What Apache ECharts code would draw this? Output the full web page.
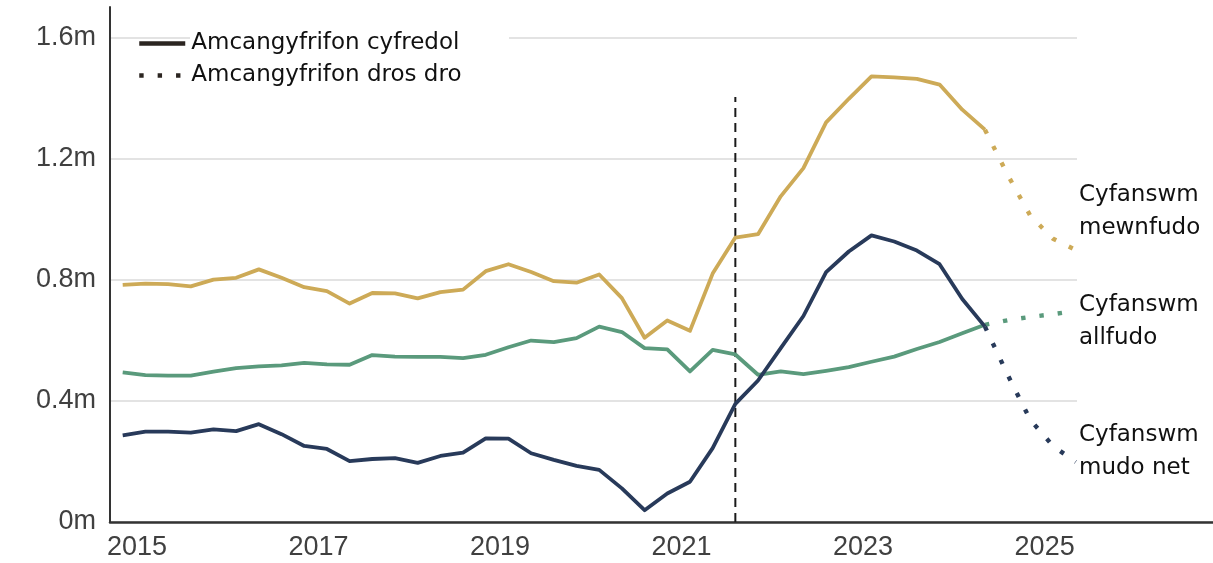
<!DOCTYPE html>
<html>
<head>
<meta charset="utf-8">
<script src="https://cdn.jsdelivr.net/npm/echarts@6.0.0/dist/echarts.min.js"></script>
<style>
  html, body { margin: 0; padding: 0; background: #fff; }
  #chart { width: 1213px; height: 563px; }
</style>
</head>
<body>
<div id="chart"></div>
<script>
// quarterly points, year ending
const quarters = [
  '2014 Q4',
  '2015 Q1', '2015 Q2', '2015 Q3', '2015 Q4',
  '2016 Q1', '2016 Q2', '2016 Q3', '2016 Q4',
  '2017 Q1', '2017 Q2', '2017 Q3', '2017 Q4',
  '2018 Q1', '2018 Q2', '2018 Q3', '2018 Q4',
  '2019 Q1', '2019 Q2', '2019 Q3', '2019 Q4',
  '2020 Q1', '2020 Q2', '2020 Q3', '2020 Q4',
  '2021 Q1', '2021 Q2', '2021 Q3', '2021 Q4',
  '2022 Q1', '2022 Q2', '2022 Q3', '2022 Q4',
  '2023 Q1', '2023 Q2', '2023 Q3', '2023 Q4',
  '2024 Q1', '2024 Q2', '2024 Q3', '2024 Q4',
  '2025 Q1', '2025 Q2'
]
// millions
const mewnfudo = [0.783, 0.787, 0.785, 0.778, 0.800, 0.806, 0.834, 0.806, 0.775, 0.762,
  0.721, 0.756, 0.755, 0.738, 0.759, 0.767, 0.828, 0.851, 0.825, 0.795,
  0.790, 0.817, 0.739, 0.608, 0.665, 0.631, 0.820, 0.939, 0.950, 1.075,
  1.168, 1.319, 1.397, 1.471, 1.468, 1.463, 1.444, 1.361, 1.295, 1.146,
  1.011, 0.935, 0.898]
const allfudo = [0.494, 0.485, 0.483, 0.483, 0.496, 0.508, 0.514, 0.517, 0.525, 0.520,
  0.519, 0.551, 0.546, 0.545, 0.545, 0.541, 0.552, 0.577, 0.599, 0.594,
  0.607, 0.645, 0.627, 0.574, 0.570, 0.497, 0.568, 0.553, 0.486, 0.497,
  0.488, 0.499, 0.511, 0.529, 0.546, 0.571, 0.594, 0.623, 0.651, 0.666,
  0.677, 0.686, 0.697]
const mudoNet = [0.286, 0.298, 0.298, 0.295, 0.306, 0.300, 0.323, 0.290, 0.251, 0.241,
  0.201, 0.208, 0.211, 0.195, 0.218, 0.229, 0.276, 0.275, 0.227, 0.205,
  0.185, 0.172, 0.111, 0.039, 0.094, 0.133, 0.244, 0.390, 0.467, 0.574,
  0.680, 0.825, 0.893, 0.946, 0.926, 0.896, 0.851, 0.736, 0.645, 0.486,
  0.337, 0.251, 0.198]
const provisionalFrom = '2024 Q2'
const breakQuarter = '2021 Q3'
const breakTop = 1.403
const yearLabels = [2015, 2017, 2019, 2021, 2023, 2025]
const legendNames = ['Amcangyfrifon cyfredol', 'Amcangyfrifon dros dro']

const GOLD = '#CDAA57'
const GREEN = '#5A9A7C'
const NAVY = '#283A5A'
const LABEL_FONT = "'DejaVu Sans', sans-serif"
const AXIS_FONT = "'Liberation Sans', Arial, sans-serif"

// quarter label -> position on the year axis
function xPos(q) {
  const y = +q.slice(0, 4)
  const n = +q.slice(6)
  return y + (n - 1) * 0.25 + 0.0924
}

const cut = quarters.indexOf(provisionalFrom)

function solid(vals) {
  return quarters.slice(0, cut + 1).map((q, i) => [xPos(q), vals[i]])
}
function dotted(vals) {
  return quarters.slice(cut).map((q, i) => [xPos(q), vals[cut + i]])
}

function lineSeries(name, data, color, dots, z) {
  return {
    name: name,
    type: 'line',
    data: data,
    symbol: 'none',
    z: z,
    silent: true,
    lineStyle: {
      color: color,
      width: dots ? 4.4 : 3.8,
      type: dots ? [4.4, 14] : 'solid',
      join: 'round'
    },
    itemStyle: { color: color }
  }
}

const chart = echarts.init(document.getElementById('chart'))
chart.setOption({
  animation: false,
  grid: { left: 110, right: 0, top: 7, bottom: 41, containLabel: false },
  legend: {
    orient: 'vertical',
    left: 137,
    top: 32,
    padding: 0,
    itemGap: 9,
    itemWidth: 46,
    itemHeight: 14,
    data: legendNames,
    lineStyle: { width: 4.5 },
    itemStyle: { opacity: 0 },
    textStyle: { fontFamily: LABEL_FONT, fontSize: 23, color: '#111', padding: [0, 0, 0, 1] },
    selectedMode: false
  },
  xAxis: {
    type: 'value',
    min: 2014.7025,
    max: 2026.855,
    splitLine: { show: false },
    axisTick: { show: false },
    axisLine: { onZero: false, lineStyle: { color: '#333', width: 2.5 } },
    axisLabel: {
      customValues: yearLabels,
      formatter: v => String(Math.round(v)),
      fontFamily: AXIS_FONT,
      fontSize: 27,
      color: '#404040',
      margin: 12
    }
  },
  yAxis: {
    type: 'value',
    min: 0,
    max: 1.7,
    interval: 0.4,
    axisLine: { show: true, lineStyle: { color: '#333', width: 2 } },
    axisTick: { show: false },
    splitLine: { show: true, showMaxLine: false, lineStyle: { color: '#e3e3e3', width: 2 } },
    axisLabel: {
      showMaxLabel: false,
      formatter: v => (v === 0 ? '0m' : v.toFixed(1) + 'm'),
      fontFamily: AXIS_FONT,
      fontSize: 27,
      color: '#404040',
      margin: 14
    }
  },
  series: [
    // legend entries only
    lineSeries(legendNames[0], [], '#2b2521', false, 1),
    lineSeries(legendNames[1], [], '#2b2521', true, 1),
    {
      type: 'line',
      data: [[xPos(breakQuarter), 0], [xPos(breakQuarter), breakTop]],
      symbol: 'none',
      silent: true,
      z: 1,
      lineStyle: { color: '#1a1a1a', width: 2, type: [9, 6] }
    },
    lineSeries('mewnfudo', solid(mewnfudo), GOLD, false, 2),
    lineSeries('mewnfudo-dd', dotted(mewnfudo), GOLD, true, 2),
    lineSeries('allfudo', solid(allfudo), GREEN, false, 3),
    lineSeries('allfudo-dd', dotted(allfudo), GREEN, true, 3),
    lineSeries('mudo-net', solid(mudoNet), NAVY, false, 4),
    lineSeries('mudo-net-dd', dotted(mudoNet), NAVY, true, 4)
  ],
  graphic: [
    // legend text box hides the gridline behind it
    { type: 'rect', left: 190, top: 24, shape: { width: 319, height: 70 }, style: { fill: '#fff' }, z: 1, silent: true },
    // label area on the right
    { type: 'rect', left: 1077, top: 0, shape: { width: 136, height: 512 }, style: { fill: '#fff' }, z: 10, silent: true },
    {
      type: 'text', left: 1079, top: 179, z: 11,
      style: { text: 'Cyfanswm\nmewnfudo', font: "23px 'DejaVu Sans'", fill: '#111', lineHeight: 33 }
    },
    {
      type: 'text', left: 1079, top: 289, z: 11,
      style: { text: 'Cyfanswm\nallfudo', font: "23px 'DejaVu Sans'", fill: '#111', lineHeight: 33 }
    },
    {
      type: 'text', left: 1079, top: 419, z: 11,
      style: { text: 'Cyfanswm\nmudo net', font: "23px 'DejaVu Sans'", fill: '#111', lineHeight: 33 }
    }
  ]
})
</script>
</body>
</html>
